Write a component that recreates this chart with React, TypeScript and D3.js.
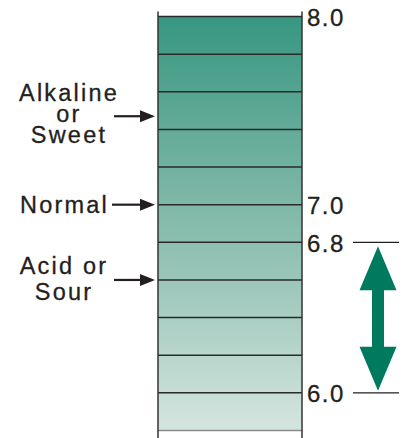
import React, { useEffect, useRef } from 'react';
import * as d3 from 'd3';

// pH scale, one row every 0.2
const rowEdges = [8.0, 7.8, 7.6, 7.4, 7.2, 7.0, 6.8, 6.6, 6.4, 6.2, 6.0, 5.8];
const tickValues = [8.0, 7.0, 6.8, 6.0];
const tickLabels = ['8.0', '7.0', '6.8', '6.0'];
const rangeTicks = [6.8, 6.0];

const pointerLines = [['Alkaline', 'or', 'Sweet'], ['Normal'], ['Acid or', 'Sour']];
const pointerValues = [7.47, 7.0, 6.6];

const FONT = '"Liberation Sans", Arial, sans-serif';

const App = () => {
    const svgRef = useRef<SVGSVGElement | null>(null);

    useEffect(() => {
        if (!svgRef.current) return;
        const height = 438;
        const svg = d3.select(svgRef.current);
        svg.selectAll('*').remove();

        const colLeft = 158;
        const colRight = 302;

        const y = d3.scaleLinear()
            .domain([8.0, 5.8])
            .range([16.5, 430.5]);

        // gradient for the column
        const defs = svg.append('defs');
        const grad = defs.append('linearGradient')
            .attr('id', 'ph-grad')
            .attr('gradientUnits', 'userSpaceOnUse')
            .attr('x1', 0).attr('x2', 0)
            .attr('y1', y(8.0)).attr('y2', y(5.8));
        grad.append('stop').attr('offset', '0%').attr('stop-color', '#389781');
        grad.append('stop').attr('offset', '50%').attr('stop-color', '#86bbab');
        grad.append('stop').attr('offset', '100%').attr('stop-color', '#d4e5df');

        const g = svg.append('g');

        // rows
        g.append('rect')
            .attr('x', colLeft)
            .attr('y', y(8.0))
            .attr('width', colRight - colLeft)
            .attr('height', y(5.8) - y(8.0))
            .attr('fill', 'url(#ph-grad)');

        g.selectAll('.row-line')
            .data(rowEdges)
            .join('line')
            .attr('class', 'row-line')
            .attr('x1', colLeft)
            .attr('x2', colRight)
            .attr('y1', d => y(d))
            .attr('y2', d => y(d))
            .attr('stroke', (d, i) => i === rowEdges.length - 1 ? '#8a8a8a' : '#2a2a2a')
            .attr('stroke-width', 1.5);

        // column sides run past the top and off the bottom
        [colLeft, colRight].forEach(x => {
            g.append('line')
                .attr('x1', x).attr('x2', x)
                .attr('y1', y(8.0) - 5)
                .attr('y2', height)
                .attr('stroke', '#333')
                .attr('stroke-width', 1.5);
        });

        // tick labels on the right
        g.selectAll('.tick-label')
            .data(tickValues)
            .join('text')
            .attr('class', 'tick-label')
            .attr('x', colRight + 5)
            .attr('y', d => y(d) + 9.5)
            .attr('font-family', FONT)
            .attr('font-size', 24)
            .attr('letter-spacing', 1.5)
            .attr('fill', '#231f20')
            .attr('stroke', '#231f20')
            .attr('stroke-width', 0.3)
            .text((d, i) => tickLabels[i]);

        // normal range ticks
        g.selectAll('.range-tick')
            .data(rangeTicks)
            .join('line')
            .attr('class', 'range-tick')
            .attr('x1', 353)
            .attr('x2', 399)
            .attr('y1', d => y(d))
            .attr('y2', d => y(d))
            .attr('stroke', '#231f20')
            .attr('stroke-width', 1.2);

        // double headed arrow
        const cx = 378;
        const top = y(rangeTicks[0]) + 4;
        const bot = y(rangeTicks[1]) - 2;
        const headLen = 44;
        const headHalf = 18.5;
        const shaftHalf = 6;
        const pts: [number, number][] = [
            [cx, top],
            [cx + headHalf, top + headLen],
            [cx + shaftHalf, top + headLen],
            [cx + shaftHalf, bot - headLen],
            [cx + headHalf, bot - headLen],
            [cx, bot],
            [cx - headHalf, bot - headLen],
            [cx - shaftHalf, bot - headLen],
            [cx - shaftHalf, top + headLen],
            [cx - headHalf, top + headLen]
        ];
        g.append('path')
            .attr('d', d3.line()(pts) + 'Z')
            .attr('fill', '#007a5e');

        // pointer labels on the left
        const labelCenters = [69, 65, 64];
        const pointerStarts = [114, 112, 114];
        pointerValues.forEach((v, i) => {
            const py = y(v);
            const lines = pointerLines[i];
            let baselines: number[];
            if (lines.length === 3) {
                baselines = [py - 15, py + 6, py + 27];
            } else if (lines.length === 2) {
                baselines = [py - 6, py + 20];
            } else {
                baselines = [py + 8];
            }

            lines.forEach((t, j) => {
                g.append('text')
                    .attr('x', lines.length === 1 ? 20 : labelCenters[i])
                    .attr('y', baselines[j])
                    .attr('text-anchor', lines.length === 1 ? 'start' : 'middle')
                    .attr('font-family', FONT)
                    .attr('font-size', 23.5)
                    .attr('letter-spacing', 2.2)
                    .attr('fill', '#231f20')
                    .attr('stroke', '#231f20')
                    .attr('stroke-width', 0.3)
                    .text(t);
            });

            g.append('line')
                .attr('x1', pointerStarts[i])
                .attr('x2', 142)
                .attr('y1', py)
                .attr('y2', py)
                .attr('stroke', '#231f20')
                .attr('stroke-width', 2.2);
            g.append('path')
                .attr('d', `M${140},${py - 6}L${155},${py}L${140},${py + 6}Z`)
                .attr('fill', '#231f20');
        });
    }, []);

    return (
        <svg
            ref={svgRef}
            width={406}
            height={438}
            style={{ position: 'absolute', left: 0, top: 0, background: '#fff' }}
        />
    );
};

export default App;
